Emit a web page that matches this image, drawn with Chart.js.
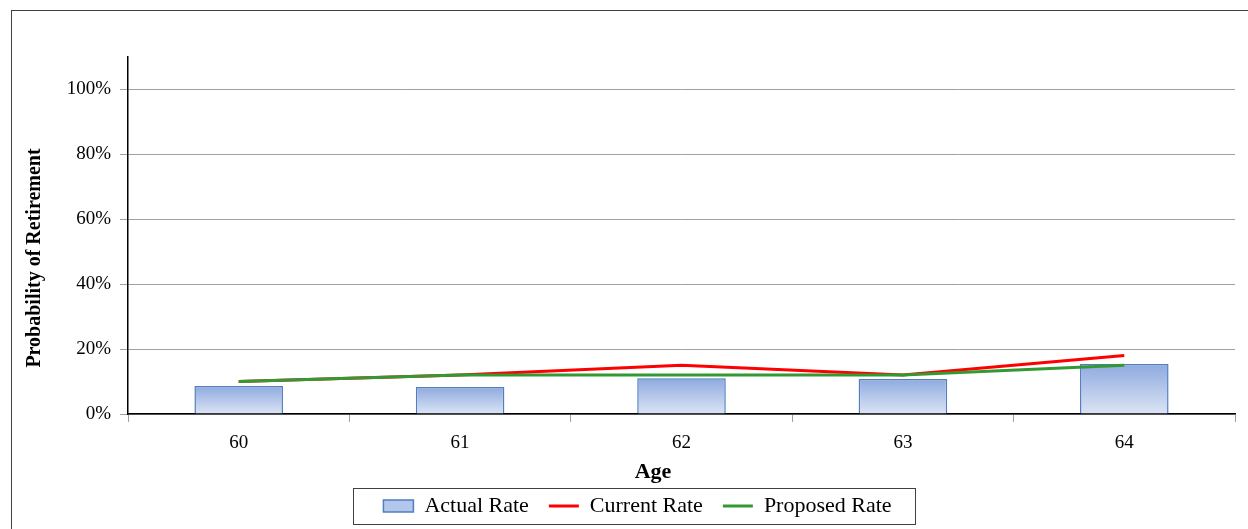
<!DOCTYPE html>
<html lang="en">
<head>
    <meta charset="UTF-8">
    <title>Probability of Retirement by Age</title>
    <style>
        html, body { margin: 0; padding: 0; background: #fff; }
        .frame {
            position: absolute;
            left: 11px; top: 10px;
            width: 1260px; height: 540px;
            border: 1px solid #404040;
            box-sizing: border-box;
        }
        .chart-box { position: absolute; left: 0; top: 0; width: 1248px; height: 529px; }
    </style>
</head>
<body>
    <div class="frame"></div>
    <div class="chart-box">
        <canvas id="retireChart" width="1248" height="529"></canvas>
    </div>

    <script src="https://cdn.jsdelivr.net/npm/chart.js"></script>
    <script>
        // Values (percent)
        const ages = ['60', '61', '62', '63', '64'];
        const actualRate = [8.6, 8.3, 11.0, 10.8, 15.4];
        const currentRate = [10, 12, 15, 12, 18];
        const proposedRate = [10, 12, 12, 12, 15];
        const yTicks = [0, 20, 40, 60, 80, 100];

        const serif = '"Liberation Serif", "Times New Roman", serif';

        // each bar gets its own gradient, blue at the top to pale at the base
        function barGradient(context) {
            const chart = context.chart;
            if (!chart.chartArea || context.dataIndex === undefined) return '#b9cbee';
            const y = chart.scales.y;
            const v = context.dataset.data[context.dataIndex];
            const g = chart.ctx.createLinearGradient(0, y.getPixelForValue(v), 0, y.getPixelForValue(0));
            g.addColorStop(0, '#8eaadf');
            g.addColorStop(1, '#dce4f4');
            return g;
        }

        // axis titles and legend frame
        const extras = {
            id: 'extras',
            afterDraw(chart) {
                const ctx = chart.ctx;
                ctx.save();
                ctx.fillStyle = '#000';
                ctx.textAlign = 'center';
                ctx.textBaseline = 'middle';

                ctx.font = 'bold 20px ' + serif;
                ctx.translate(35, 258);
                ctx.rotate(-Math.PI / 2);
                ctx.fillText('Probability of Retirement', 0, 0);
                ctx.setTransform(1, 0, 0, 1, 0, 0);

                ctx.font = 'bold 22px ' + serif;
                ctx.fillText('Age', 653, 472);

                const boxes = chart.legend.legendHitBoxes;
                if (boxes && boxes.length) {
                    const first = boxes[0];
                    const last = boxes[boxes.length - 1];
                    const cy = first.top + first.height / 2;
                    ctx.strokeStyle = '#404040';
                    ctx.lineWidth = 1;
                    const left = Math.round(first.left - 30) + 0.5;
                    const right = Math.round(last.left + last.width + 23) + 0.5;
                    ctx.strokeRect(left, Math.round(cy - 18) + 0.5, right - left, 36);
                }
                ctx.restore();
            }
        };

        new Chart(document.getElementById('retireChart').getContext('2d'), {
            data: {
                labels: ages,
                datasets: [
                    {
                        type: 'bar',
                        label: 'Actual Rate',
                        data: actualRate,
                        backgroundColor: barGradient,
                        borderColor: '#4f7fbf',
                        borderWidth: 1.5,
                        categoryPercentage: 0.4,
                        barPercentage: 1,
                        order: 3
                    },
                    {
                        type: 'line',
                        label: 'Current Rate',
                        data: currentRate,
                        borderColor: '#ff0000',
                        backgroundColor: '#ff0000',
                        borderWidth: 3,
                        pointRadius: 0,
                        tension: 0,
                        order: 2
                    },
                    {
                        type: 'line',
                        label: 'Proposed Rate',
                        data: proposedRate,
                        borderColor: '#339933',
                        backgroundColor: '#339933',
                        borderWidth: 3,
                        pointRadius: 0,
                        tension: 0,
                        order: 1
                    }
                ]
            },
            options: {
                responsive: false,
                animation: false,
                layout: { padding: { left: 40, right: 13, top: 57, bottom: 2 } },
                plugins: {
                    tooltip: { enabled: false },
                    legend: {
                        position: 'bottom',
                        labels: {
                            font: { family: serif, size: 22 },
                            color: '#000',
                            padding: 20,
                            usePointStyle: true,
                            pointStyleWidth: 30,
                            boxHeight: 12,
                            generateLabels(chart) {
                                return chart.data.datasets.map((ds, i) => ({
                                    text: ds.label,
                                    datasetIndex: i,
                                    fillStyle: ds.type === 'bar' ? '#b3c6ec' : ds.borderColor,
                                    strokeStyle: ds.type === 'bar' ? '#4f7fbf' : ds.borderColor,
                                    lineWidth: ds.type === 'bar' ? 1.5 : 3,
                                    pointStyle: ds.type === 'bar' ? 'rect' : 'line',
                                    fontColor: '#000',
                                    hidden: false
                                }));
                            }
                        }
                    }
                },
                scales: {
                    x: {
                        offset: true,
                        afterFit(scale) { scale.height = 61; },
                        grid: {
                            offset: true,
                            drawOnChartArea: false,
                            drawTicks: true,
                            tickLength: 8,
                            color: '#a0a0a0'
                        },
                        border: { color: '#000', width: 1.5 },
                        ticks: {
                            font: { family: serif, size: 19 },
                            color: '#000',
                            padding: 10
                        }
                    },
                    y: {
                        min: 0,
                        max: 110,
                        afterFit(scale) { scale.width = 88; },
                        afterBuildTicks(scale) {
                            scale.ticks = yTicks.map(v => ({ value: v }));
                        },
                        grid: {
                            color: '#a0a0a0',
                            tickLength: 8,
                            drawTicks: true
                        },
                        border: { color: '#000', width: 1.5 },
                        ticks: {
                            font: { family: serif, size: 19 },
                            color: '#000',
                            padding: 9,
                            callback: v => v + '%'
                        }
                    }
                }
            },
            plugins: [extras]
        });
    </script>
</body>
</html>
